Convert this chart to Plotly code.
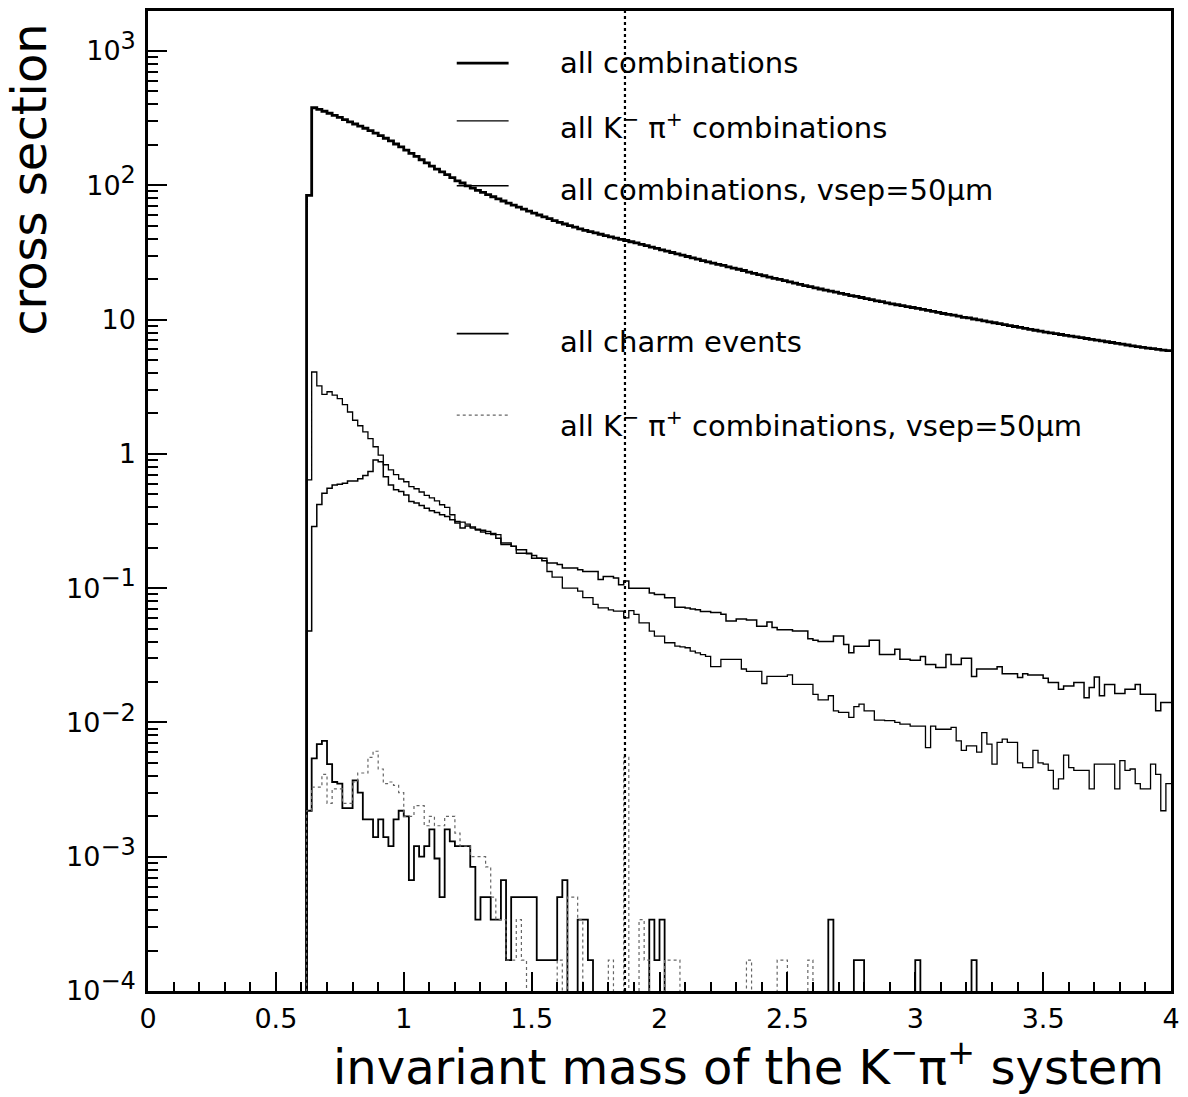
import numpy as np
import plotly.graph_objects as go

# ---------------- data (histograms, 0.02 wide bins starting at 0.62) ----------------
bin_start = 0.62
bin_width = 0.02
d0_mass = 1.865

# all combinations (thick top curve)
all_comb = [
    84,
    378, 367, 356, 344, 332, 320, 308, 297, 286, 276,
    266, 255, 245, 234, 224, 214, 203, 193,
    183, 173, 164, 155, 147, 139, 132, 126, 120, 114,
    108, 104, 98.9, 95.3, 91.8, 88.5, 85.3, 82.2, 79.3, 76.4,
    73.7, 71.2, 68.8, 66.5, 64.2, 62.1, 60.1, 58.2, 56.4, 54.6,
    53.0, 51.5, 50.1, 48.8, 47.4, 46.2, 45.2, 44.2, 43.2, 42.2,
    41.3, 40.4, 39.6, 38.8, 38.0, 37.2, 36.3, 35.5, 34.7, 33.9,
    33.1, 32.4, 31.6, 30.9, 30.2, 29.5, 28.8, 28.2, 27.5, 26.9,
    26.3, 25.8, 25.3, 24.7, 24.2, 23.7, 23.2, 22.6, 22.1, 21.6,
    21.2, 20.7, 20.3, 19.9, 19.5, 19.1, 18.7, 18.3, 17.9, 17.6,
    17.2, 16.9, 16.6, 16.3, 16.0, 15.7, 15.4, 15.1, 14.9, 14.6,
    14.3, 14.1, 13.8, 13.6, 13.3, 13.1, 12.9, 12.7, 12.5, 12.3,
    12.1, 11.9, 11.7, 11.5, 11.3, 11.1, 10.95, 10.8, 10.6, 10.4,
    10.3, 10.1, 9.94, 9.78, 9.63, 9.47, 9.32, 9.17, 9.03, 8.88,
    8.74, 8.60, 8.46, 8.33, 8.20, 8.07, 7.96, 7.85, 7.74, 7.64,
    7.53, 7.43, 7.33, 7.23, 7.13, 7.03, 6.93, 6.84, 6.75, 6.65,
    6.56, 6.47, 6.38, 6.30, 6.21, 6.14, 6.07, 6.00, 5.93, 5.87,
]

# all K- pi+ combinations (thin, falling from threshold)
kpi_comb = [
    0.64, 4.07, 3.21, 2.77, 2.90, 2.74, 2.58, 2.33, 2.05, 1.78,
    1.62, 1.46, 1.30, 1.13, 0.98, 0.83, 0.76, 0.70, 0.65, 0.62,
    0.57, 0.55, 0.52, 0.49, 0.47, 0.447, 0.418, 0.40, 0.352, 0.314,
    0.31, 0.30, 0.28, 0.27, 0.262, 0.255, 0.25, 0.25, 0.211, 0.211,
    0.205, 0.182, 0.182, 0.182, 0.175, 0.167, 0.167, 0.133, 0.121, 0.121,
    0.100, 0.100, 0.100, 0.095, 0.085, 0.085, 0.0756, 0.0714, 0.0714, 0.069,
    0.0675, 0.0675, 0.060, 0.068, 0.0637, 0.0552, 0.0552, 0.0479, 0.044, 0.044,
    0.0392, 0.0392,
    0.037, 0.0365, 0.036, 0.034, 0.033, 0.032, 0.031, 0.026, 0.026, 0.0295,
    0.0295, 0.0295, 0.0295, 0.025, 0.024, 0.024, 0.024, 0.0195, 0.022, 0.022,
    0.022, 0.022, 0.0226, 0.0192, 0.0192, 0.0192, 0.0192, 0.0162, 0.0147, 0.0147,
    0.0158, 0.0122, 0.0119, 0.0119, 0.0109, 0.0131, 0.0137, 0.0122, 0.0122, 0.0104,
    0.0104,
    0.0103, 0.0103, 0.0100, 0.0097, 0.0097, 0.0094, 0.0094, 0.0094, 0.0065, 0.0094,
    0.0089, 0.0089, 0.0089, 0.0092, 0.0073, 0.0062, 0.0067, 0.0067, 0.0060, 0.0084,
    0.0069, 0.0049, 0.0071, 0.0075, 0.0071, 0.0071, 0.0050, 0.0046, 0.0046, 0.0062,
    0.0050, 0.0049, 0.0044, 0.0032, 0.0038, 0.0057, 0.0046, 0.0044, 0.0044, 0.0044,
    0.0032, 0.0049, 0.0049, 0.0049, 0.0049, 0.0032, 0.0052, 0.0044, 0.0045, 0.0035,
    0.0032, 0.0032, 0.0049, 0.0041, 0.0022, 0.0035,
]

# all combinations, vsep = 50 um (K* bump near 0.89)
vsep_comb = [
    0.048, 0.288, 0.42, 0.51, 0.555, 0.587, 0.594, 0.604, 0.629, 0.629,
    0.652, 0.689, 0.738, 0.90, 0.875, 0.676, 0.587, 0.54, 0.524, 0.495,
    0.442, 0.43, 0.412, 0.394, 0.377, 0.366, 0.352, 0.342, 0.323, 0.305,
    0.28, 0.29, 0.285, 0.275, 0.27, 0.264, 0.255, 0.235, 0.217, 0.217,
    0.205, 0.193, 0.193, 0.18, 0.167, 0.167, 0.16, 0.154, 0.154, 0.150,
    0.141, 0.141, 0.141, 0.137, 0.133, 0.133, 0.133, 0.116, 0.122, 0.122,
    0.119, 0.106, 0.113, 0.100, 0.100, 0.100, 0.100, 0.092, 0.0897, 0.0897,
    0.0847, 0.0847,
    0.072, 0.072, 0.071, 0.070, 0.069, 0.067, 0.067, 0.066, 0.066, 0.064,
    0.057, 0.057, 0.059, 0.059, 0.058, 0.058, 0.052, 0.052, 0.056, 0.051,
    0.049, 0.049, 0.049, 0.048, 0.048, 0.048, 0.042, 0.041, 0.040, 0.040,
    0.040, 0.044, 0.044, 0.038, 0.033, 0.037, 0.037, 0.037, 0.041, 0.041,
    0.032, 0.032, 0.032, 0.035, 0.0295, 0.0295, 0.029, 0.029, 0.031, 0.027,
    0.027, 0.0256, 0.0256, 0.032, 0.027, 0.027, 0.030, 0.030, 0.022, 0.025,
    0.025, 0.025, 0.025, 0.026, 0.023, 0.023, 0.023, 0.0216, 0.023, 0.0226,
    0.0226, 0.0226, 0.0213, 0.0198, 0.0198, 0.0177, 0.0187, 0.0187, 0.0198, 0.0198,
    0.0153, 0.0182, 0.0218, 0.0158, 0.0192, 0.0192, 0.0164, 0.0164, 0.0177, 0.0177,
    0.0192, 0.0162, 0.0162, 0.0162, 0.0122, 0.0141, 0.0141,
]

# all charm events (solid, bottom)
charm = [
    0.0022, 0.0054, 0.0069, 0.0073, 0.0049, 0.0036, 0.0035, 0.0023, 0.0023, 0.0037,
    0.0030, 0.0019, 0.0019, 0.0014, 0.0019, 0.0014, 0.0012, 0.0019, 0.0022, 0.0020,
    0.00067, 0.0012, 0.0010, 0.0012, 0.0016, 0.00097, 0.0005, 0.0016, 0.0013, 0.0012,
    0.0012, 0.0012, 0.00084, 0.00034, 0.0005, 0.0005, 0.00034, 0.00034, 0.00067, 0.00017,
    0.0005, 0.0005, 0.0005, 0.0005, 0.0005, 0.00017, 0.00017, 0.00017, 0.00017, 0.0005,
    0.00067, 0, 0, 0.00034, 0.00034, 0.00017,
    0, 0, 0, 0, 0, 0, 0, 0, 0, 0, 0,
    0.00034, 0.00017, 0.00034,
    0, 0, 0, 0, 0, 0, 0, 0, 0, 0,
    0, 0, 0, 0, 0, 0, 0, 0, 0, 0,
    0, 0, 0, 0, 0, 0, 0, 0, 0, 0,
    0, 0,
    0.00034, 0, 0, 0, 0, 0.00017, 0.00017,
    0, 0, 0, 0, 0, 0, 0, 0, 0, 0,
    0.00017,
    0, 0, 0, 0, 0, 0, 0, 0, 0, 0,
    0.00017,
    0, 0, 0, 0, 0, 0, 0, 0, 0, 0,
    0, 0, 0, 0, 0, 0, 0, 0, 0, 0,
    0, 0, 0, 0, 0, 0, 0, 0, 0, 0,
    0, 0, 0, 0, 0, 0, 0, 0,
]

# all K- pi+ combinations, vsep = 50 um (dotted, bottom)
kpi_vsep = [
    0.0022, 0.0033, 0.0033, 0.0041, 0.0025, 0.0032, 0.0032, 0.0025, 0.0025, 0.0036,
    0.0042, 0.0042, 0.0055, 0.0061, 0.0045, 0.0035, 0.0036, 0.0034, 0.0030, 0.0020,
    0.0020, 0.0024, 0.0024, 0.0017, 0.0020, 0.0017, 0.0017, 0.0020, 0.0020, 0.0015,
    0.0012, 0.0012, 0.0010, 0.0010, 0.0010, 0.00084, 0.0005, 0.00034, 0.00034, 0.00017,
    0.00017, 0.00034, 0.00017, 0, 0, 0, 0, 0, 0, 0.00017,
    0, 0.0005, 0.0005, 0.00034, 0, 0, 0, 0, 0, 0.00017,
    0, 0, 0.0055, 0, 0, 0.00034, 0.00017, 0, 0, 0,
    0.00017, 0.00017, 0.00017,
    0, 0, 0, 0, 0, 0, 0, 0, 0, 0, 0, 0, 0,
    0.00017,
    0, 0, 0, 0, 0,
    0.00017, 0.00017,
    0, 0, 0, 0,
    0.00017,
    0, 0, 0, 0, 0, 0, 0, 0, 0, 0,
    0, 0, 0, 0, 0, 0, 0, 0, 0, 0,
    0, 0, 0, 0, 0, 0, 0, 0, 0, 0,
    0, 0, 0, 0, 0, 0, 0, 0, 0, 0,
    0, 0, 0, 0, 0, 0, 0, 0, 0, 0,
    0, 0, 0, 0, 0, 0, 0, 0, 0, 0,
    0, 0, 0, 0, 0, 0, 0, 0, 0, 0,
]

legend_labels = [
    "all combinations",
    "all K<sup>−</sup> π<sup>+</sup> combinations",
    "all combinations, vsep=50μm",
    "all charm events",
    "all K<sup>−</sup> π<sup>+</sup> combinations, vsep=50μm",
]

x_tickvals = [0, 0.5, 1, 1.5, 2, 2.5, 3, 3.5, 4]
x_ticktext = ["0", "0.5", "1", "1.5", "2", "2.5", "3", "3.5", "4"]
y_tickvals = [1e-4, 1e-3, 1e-2, 1e-1, 1, 10, 100, 1000]
y_exponents = ["−4", "−3", "−2", "−1", None, None, "2", "3"]
y_plain = {1: "1", 10: "10"}

# ---------------- build figure ----------------
n_bins = len(all_comb)
edges = np.round(bin_start + bin_width * np.arange(n_bins + 1), 4)
floor_val = 1e-7  # zero bins are drawn down to (below) the axis


def step(vals):
    v = np.array(vals, dtype=float)
    v = np.where(v > 0, v, floor_val)
    xs = np.concatenate([[edges[0]], edges[: len(v) + 1]])
    ys = np.concatenate([[floor_val], v, [v[-1]]])
    return xs, ys


y_ticktext = []
for val, ex in zip(y_tickvals, y_exponents):
    if ex is None:
        y_ticktext.append(y_plain[val])
    else:
        y_ticktext.append("10<sup><span style='font-size:24px'>%s</span></sup>" % ex)

styles = [
    dict(color="black", width=2.8),
    dict(color="black", width=1.3),
    dict(color="black", width=1.5),
    dict(color="black", width=1.8),
    dict(color="#666666", width=1.2, dash="dot"),
]
series = [all_comb, kpi_comb, vsep_comb, charm, kpi_vsep]

fig = go.Figure()
for vals, st, name in zip(series, styles, legend_labels):
    xs, ys = step(vals)
    fig.add_trace(go.Scatter(x=xs, y=ys, mode="lines", line_shape="hv",
                             line=st, name=name, hoverinfo="skip"))

# D0 mass marker
fig.add_shape(type="line", xref="x", yref="paper", x0=d0_mass, x1=d0_mass,
              y0=0, y1=1, line=dict(color="black", width=2.2, dash="dot"))

# legend drawn in the frame
leg_line_y = [0.9469, 0.8878, 0.8217, 0.6707, 0.5877]
leg_text_y = [0.947, 0.883, 0.817, 0.662, 0.579]
for st, ly, ty, lab in zip(styles, leg_line_y, leg_text_y, legend_labels):
    fig.add_shape(type="line", xref="paper", yref="paper", x0=0.3018, x1=0.3525,
                  y0=ly, y1=ly, line=st)
    fig.add_annotation(xref="paper", yref="paper", x=0.4012, y=ty, text=lab,
                       showarrow=False, xanchor="left", yanchor="middle",
                       font=dict(size=29, color="black"))

# axis titles
fig.add_annotation(xref="paper", yref="paper", x=-0.117, y=0.828,
                   text="cross section", textangle=-90, showarrow=False,
                   xanchor="center", yanchor="middle", font=dict(size=48, color="black"))
fig.add_annotation(xref="paper", yref="paper", x=0.995, y=-0.0745,
                   text="invariant mass of the K<sup>−</sup>π<sup>+</sup> system",
                   showarrow=False, xanchor="right", yanchor="middle",
                   font=dict(size=48, color="black"))

minor_y = [m * 10.0 ** e for e in range(-4, 4) for m in range(2, 10) if m * 10.0 ** e < 1980]

fig.update_layout(
    width=1188, height=1097,
    margin=dict(l=148, r=13, t=8, b=106),
    paper_bgcolor="white", plot_bgcolor="white",
    showlegend=False,
    font=dict(family="DejaVu Sans", color="black"),
)
fig.update_xaxes(
    range=[0, 4], tickmode="array", tickvals=x_tickvals, ticktext=x_ticktext,
    ticks="inside", ticklen=19, tickwidth=2, tickcolor="black",
    showline=True, linewidth=2.5, linecolor="black", mirror=True,
    showgrid=False, zeroline=False, tickfont=dict(size=27),
    ticklabelstandoff=2,
    minor=dict(ticks="inside", ticklen=9, tickwidth=2, tickcolor="black",
               tick0=0, dtick=0.1, showgrid=False),
)
fig.update_yaxes(
    type="log", range=[-4, 3.298], tickmode="array", tickvals=y_tickvals, ticktext=y_ticktext,
    ticks="inside", ticklen=19, tickwidth=2, tickcolor="black",
    showline=True, linewidth=2.5, linecolor="black", mirror=True,
    showgrid=False, zeroline=False, tickfont=dict(size=27),
    ticklabelstandoff=4,
    minor=dict(ticks="inside", ticklen=10, tickwidth=1.5, tickcolor="black",
               tickmode="array", tickvals=minor_y, showgrid=False),
)

fig.write_html("out.html")
